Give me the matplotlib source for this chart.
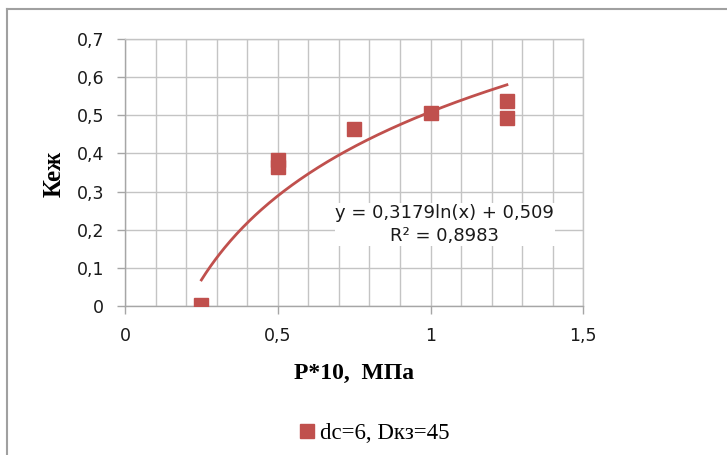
import numpy as np
import matplotlib
matplotlib.use("Agg")
import matplotlib.pyplot as plt
from matplotlib.lines import Line2D

# ---- data ----
pressure = [0.25, 0.5, 0.5, 0.75, 1.0, 1.25, 1.25]
k_ezh = [0.003, 0.383, 0.365, 0.464, 0.506, 0.537, 0.492]
trend_a = 0.3179
trend_b = 0.509
trend_r2 = 0.8983
x_ticks = [0, 0.5, 1, 1.5]
x_tick_labels = ["0", "0,5", "1", "1,5"]
y_ticks = [0, 0.1, 0.2, 0.3, 0.4, 0.5, 0.6, 0.7]
y_tick_labels = ["0", "0,1", "0,2", "0,3", "0,4", "0,5", "0,6", "0,7"]
series_label = "dc=6, Dкз=45"
x_label = "P*10,  МПа"
y_label = "Кеж"

RED = "#C0504D"
GRID = "#c4c4c4"
AXC = "#a6a6a6"

fig = plt.figure(figsize=(7.27, 4.55), dpi=100)
ax = fig.add_axes([125 / 727, 1 - 306 / 455, (583.3 - 125) / 727, (306 - 39) / 455])

ax.set_xlim(0, 1.5)
ax.set_ylim(0, 0.7)

# grid: every 0.1 in both directions
ax.set_xticks(np.round(np.arange(0, 1.51, 0.1), 2), minor=True)
ax.set_yticks(y_ticks)
ax.set_yticklabels(y_tick_labels)
ax.set_xticks(x_ticks)
ax.set_xticklabels(x_tick_labels)
ax.grid(True, which="both", color=GRID, linewidth=1.0)
ax.set_axisbelow(True)
ax.tick_params(axis="x", which="minor", length=0)
ax.tick_params(axis="both", which="major", length=6, color=AXC, width=1.0,
               labelsize=12.5, labelcolor="#1a1a1a", pad=9)
for s in ax.spines.values():
    s.set_color(GRID)
    s.set_linewidth(1.0)
ax.spines["left"].set_color(AXC)
ax.spines["bottom"].set_color(AXC)
for lab in ax.get_xticklabels() + ax.get_yticklabels():
    lab.set_family("DejaVu Sans")

# trendline
xt = np.linspace(pressure[0], pressure[-1], 200)
ax.plot(xt, trend_a * np.log(xt) + trend_b, color=RED, linewidth=2.0, zorder=3)

# data points
ax.plot(pressure, k_ezh, linestyle="none", marker="s", markersize=10,
        color=RED, markeredgecolor=RED, label=series_label, zorder=4)

# equation label
eq = f"y = {trend_a:.4f}ln(x) + {trend_b:.3f}".replace(".", ",")
r2 = f"R² = {trend_r2:.4f}".replace(".", ",")
ax.text(1.047, 0.2135, eq + "\n" + r2, ha="center", va="center",
        multialignment="center", fontsize=13, family="DejaVu Sans",
        color="#1a1a1a", linespacing=1.35,
        bbox=dict(facecolor="white", edgecolor="none", pad=0.5), zorder=5)

# axis labels
ax.set_xlabel(x_label, fontsize=17, fontweight="bold", family="Liberation Serif",
              va="center")
ax.xaxis.set_label_coords(0.5, (306 - 373) / 267)
ax.set_ylabel(y_label, fontsize=18, fontweight="bold", family="Liberation Serif",
              va="center")
ax.yaxis.set_label_coords((54 - 125) / 458.3, 0.495)

# legend
fig.legend(loc="center", bbox_to_anchor=(374 / 727, 1 - 433 / 455), frameon=False,
           prop={"family": "Liberation Serif", "size": 16.5}, handlelength=0.7,
           handletextpad=0.2, borderaxespad=0)

# chart-area border (left and top visible)
fig.add_artist(Line2D([7 / 727, 7 / 727], [0, 1 - 9.3 / 455], transform=fig.transFigure,
                      color="#a0a0a0", linewidth=1.5))
fig.add_artist(Line2D([7 / 727, 1], [1 - 9.3 / 455, 1 - 9.3 / 455], transform=fig.transFigure,
                      color="#a0a0a0", linewidth=1.5))

fig.savefig("out.png", dpi=100, facecolor="white")
